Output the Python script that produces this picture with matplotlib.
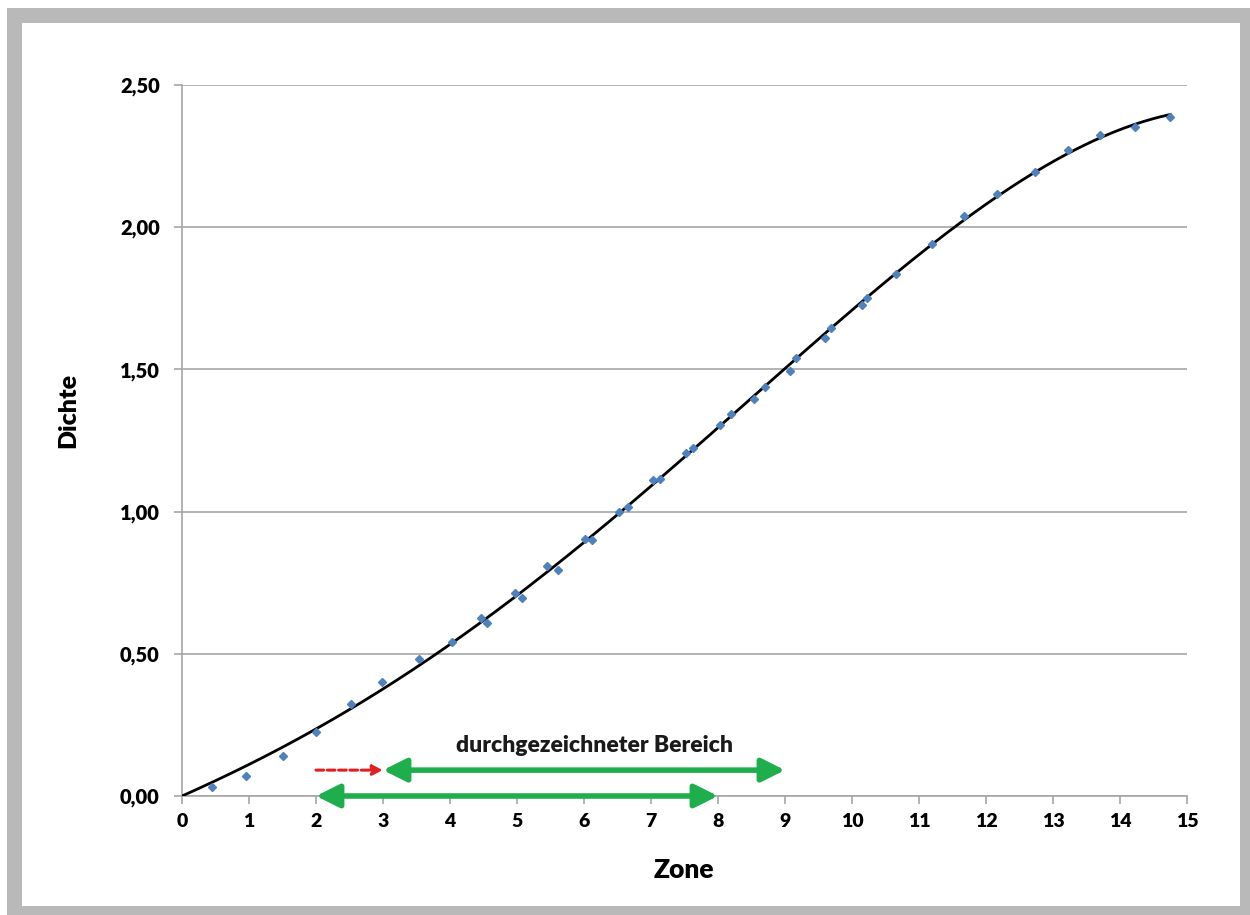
import numpy as np
import matplotlib
matplotlib.use("Agg")
import matplotlib.pyplot as plt
from matplotlib.patches import Rectangle

plt.rcParams['font.family'] = ['Lato', 'DejaVu Sans']

# measured points (Zone, Dichte)
zone = [0.45, 0.95, 1.51, 2.0, 2.52, 2.99, 3.54, 4.03, 4.46, 4.55, 4.97, 5.07,
        5.45, 5.61, 6.01, 6.12, 6.52, 6.66, 7.03, 7.13, 7.52, 7.63, 8.03, 8.19,
        8.54, 8.70, 9.07, 9.16, 9.60, 9.69, 10.15, 10.22, 10.66, 11.19, 11.67,
        12.16, 12.73, 13.22, 13.70, 14.22, 14.75]
dichte = [0.032, 0.07, 0.14, 0.225, 0.323, 0.40, 0.48, 0.54, 0.626, 0.608, 0.714, 0.696,
          0.809, 0.795, 0.904, 0.90, 0.999, 1.016, 1.111, 1.115, 1.206, 1.224, 1.304, 1.343,
          1.396, 1.438, 1.494, 1.540, 1.610, 1.646, 1.726, 1.751, 1.835, 1.941, 2.039,
          2.117, 2.194, 2.271, 2.324, 2.352, 2.387]

xticks = list(range(0, 16))
yticks = [0.0, 0.5, 1.0, 1.5, 2.0, 2.5]
ylabels = ["0,00", "0,50", "1,00", "1,50", "2,00", "2,50"]

# ranges marked by arrows
range_upper = (3, 9)
range_lower = (2, 8)
shift = (2, 3)

x = np.array(zone)
y = np.array(dichte)

# polynomial trendline through the origin (like Excel "intercept = 0")
A = np.vstack([x, x**2, x**3, x**4]).T
coef = np.linalg.lstsq(A, y, rcond=None)[0]
xs = np.linspace(0, x.max(), 300)
ys = coef[0]*xs + coef[1]*xs**2 + coef[2]*xs**3 + coef[3]*xs**4

fig = plt.figure(figsize=(12.5, 9.15), dpi=100)
fig.patches.append(Rectangle((7/1250, 0), 1 - 7/1250, 1 - 8/915, transform=fig.transFigure,
                             facecolor="#b9b9b9", edgecolor="none", zorder=-2))
fig.patches.append(Rectangle((22/1250, 9/915), (1240-22)/1250, (906-23)/915,
                             transform=fig.transFigure, facecolor="white",
                             edgecolor="none", zorder=-1))

ax = fig.add_axes([182/1250, 1 - 796/915, (1187-182)/1250, (796-85)/915])
ax.set_facecolor("none")

ax.plot(xs, ys, color="black", lw=2, zorder=3)
ax.plot(x, y, "D", color="#4f81bd", markersize=4, zorder=4)

ax.set_xlim(0, 15)
ax.set_ylim(0, 2.5)
ax.set_xticks(xticks)
ax.set_xticklabels([str(t) for t in xticks], fontweight="heavy", fontsize=14)
ax.set_yticks(yticks)
ax.set_yticklabels(ylabels, fontweight="heavy", fontsize=14.5)
ax.yaxis.grid(True, color="#a6a6a6", lw=1.2)
ax.set_axisbelow(True)
for s in ["top", "right"]:
    ax.spines[s].set_visible(False)
for s in ["left", "bottom"]:
    ax.spines[s].set_color("#a6a6a6")
    ax.spines[s].set_linewidth(1.2)
ax.tick_params(axis="both", color="#a6a6a6", length=6, width=1.2)
ax.tick_params(axis="x", pad=6)
ax.tick_params(axis="y", pad=10)

green = "#1fae4c"
ax.annotate("", xy=(range_upper[1], 0.091), xytext=(range_upper[0], 0.091),
            arrowprops=dict(arrowstyle="<|-|>,head_length=1.4,head_width=0.7",
                            color=green, lw=4, shrinkA=0, shrinkB=0), zorder=5)
ax.annotate("", xy=(range_lower[1], 0.0), xytext=(range_lower[0], 0.0),
            arrowprops=dict(arrowstyle="<|-|>,head_length=1.4,head_width=0.7",
                            color=green, lw=4, shrinkA=0, shrinkB=0),
            annotation_clip=False, zorder=5)
ax.annotate("", xy=(shift[1], 0.091), xytext=(shift[0], 0.091),
            arrowprops=dict(arrowstyle="-|>,head_length=0.6,head_width=0.3",
                            color="#e02020", lw=2.2, ls=(0, (2.5, 1.2)),
                            shrinkA=0, shrinkB=0), zorder=5)
ax.text(6.15, 0.178, "durchgezeichneter Bereich", ha="center", va="center",
        fontsize=16.5, fontweight="heavy", color="#1a1a1a")

fig.text(684/1250, 1 - 870/915, "Zone", ha="center", va="center",
         fontsize=19, fontweight="heavy")
fig.text(68/1250, 1 - 410/915, "Dichte", ha="center", va="center",
         rotation=90, fontsize=18, fontweight="heavy")

fig.savefig("out.png", dpi=100)
